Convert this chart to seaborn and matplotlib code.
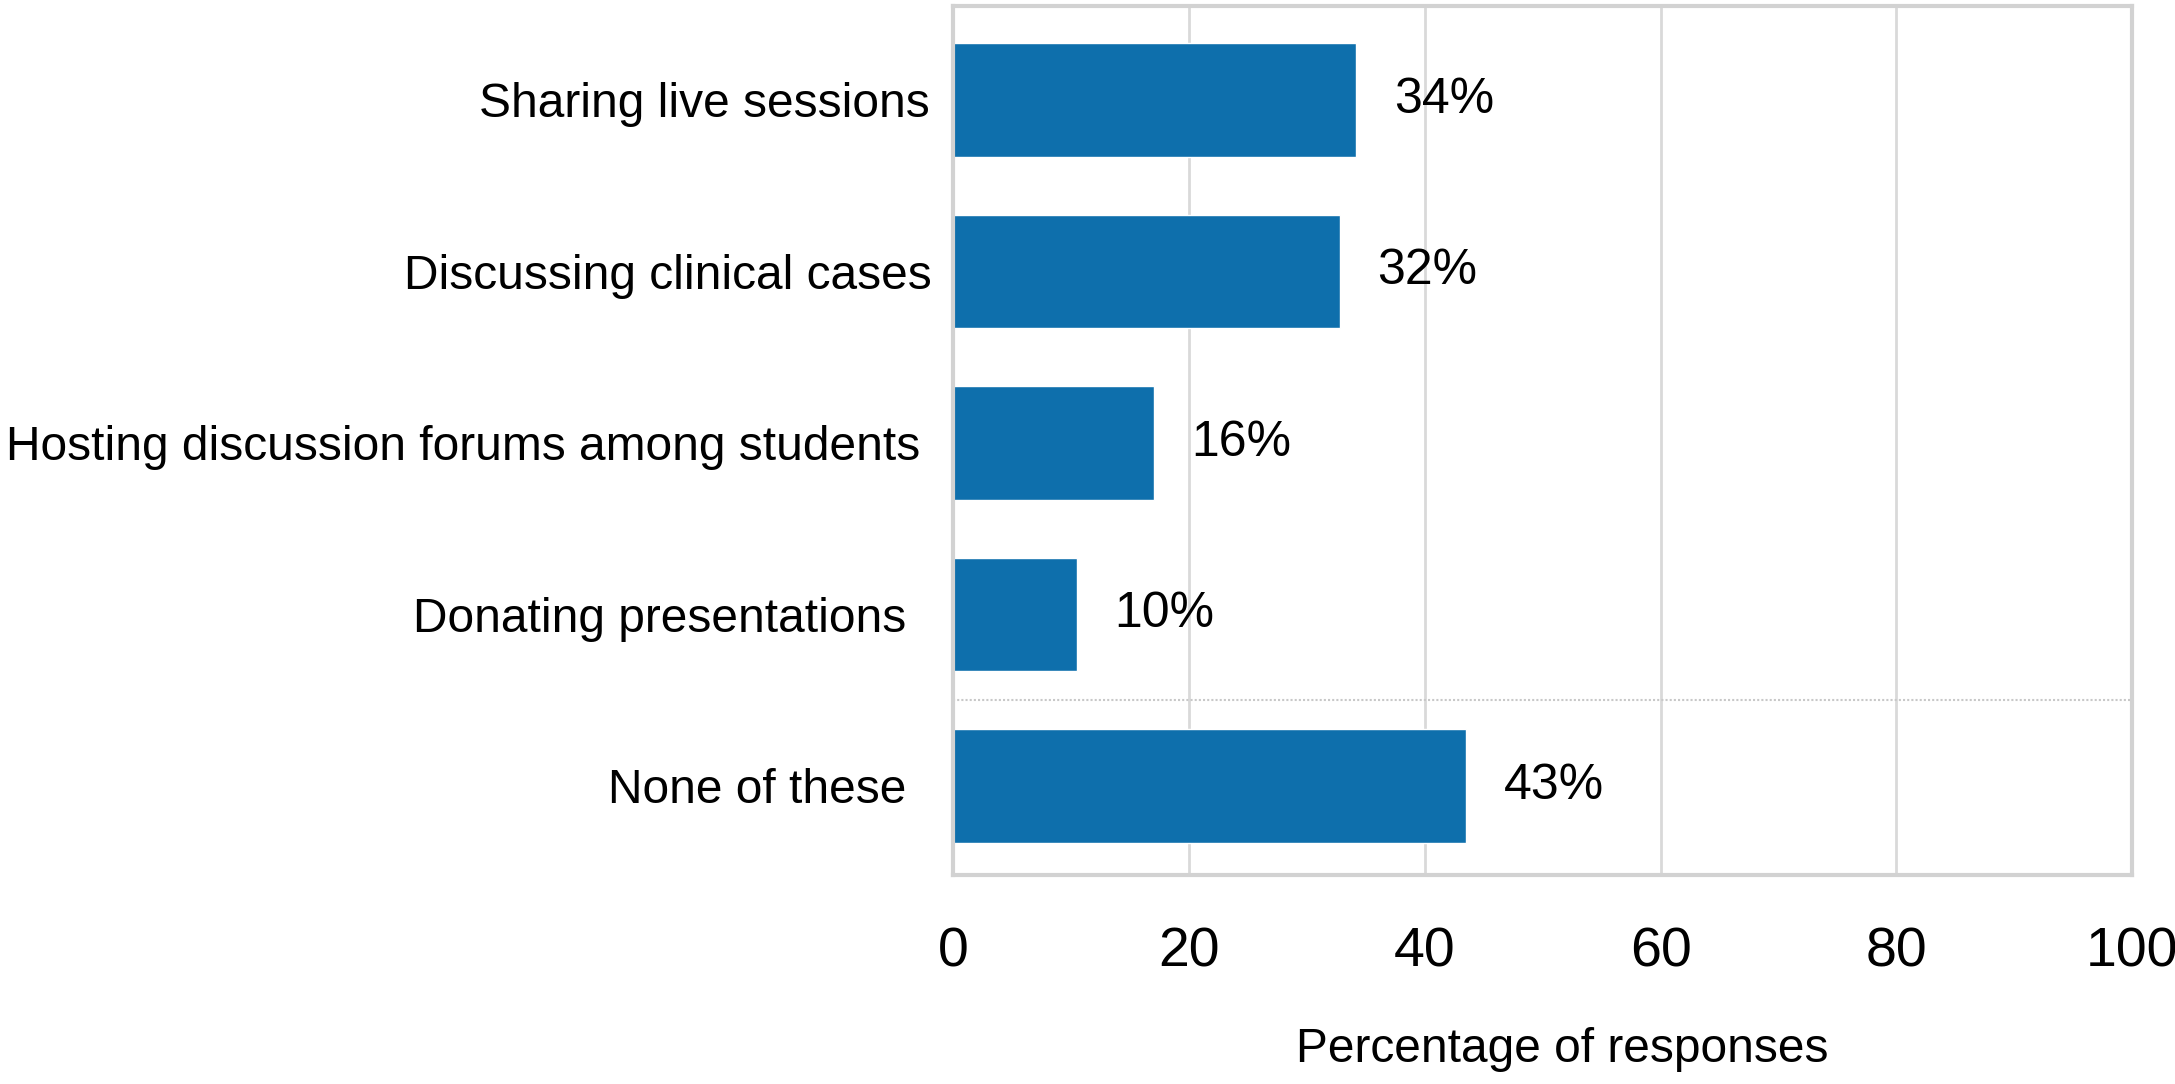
import matplotlib
matplotlib.use("Agg")
import matplotlib.pyplot as plt
import matplotlib.transforms as mtransforms
import seaborn as sns

# data
categories = [
    "Sharing live sessions",
    "Discussing clinical cases",
    "Hosting discussion forums among students",
    "Donating presentations",
    "None of these",
]
bar_values = [34.2, 32.8, 17.0, 10.5, 43.5]   # bar lengths as drawn
shown_pct = [34, 32, 16, 10, 43]              # labels printed next to bars
x_ticks = [0, 20, 40, 60, 80, 100]
x_label = "Percentage of responses"

BAR_COLOR = "#0e6fac"
FRAME_COLOR = "#d2d2d2"
GRID_COLOR = "#d9d9d9"

sns.set_theme(style="white")
plt.rcParams["font.family"] = ["Liberation Sans", "DejaVu Sans"]

fig = plt.figure(figsize=(21.75, 10.84), dpi=100)
ax = fig.add_axes([0.4382, 0.1928, 0.5421, 0.8017])

sns.barplot(x=bar_values, y=categories, orient="h", color=BAR_COLOR,
            saturation=1, width=0.66, ax=ax, zorder=3)

ax.set_xlim(0, 100)
ax.set_ylim(4.519, -0.548)
ax.set_xticks(x_ticks)
ax.set_xticklabels([str(t) for t in x_ticks])

# vertical grid + faint dotted separator before the last row
ax.grid(axis="x", color=GRID_COLOR, linewidth=2, zorder=0)
ax.grid(axis="y", visible=False)
ax.axhline(3.5, color="#c8c8c8", linestyle=(0, (1, 1)), linewidth=1.5, zorder=1)

for side in ["top", "bottom", "left", "right"]:
    ax.spines[side].set_visible(True)
    ax.spines[side].set_color(FRAME_COLOR)
    ax.spines[side].set_linewidth(3)
    ax.spines[side].set_zorder(4)

ax.tick_params(axis="x", length=0, pad=37, labelsize=40, labelcolor="black")
ax.tick_params(axis="y", length=0, pad=16, labelsize=34.5, labelcolor="black")

# the original labels are not quite flush right; nudge a few (pixels)
nudge_px = [-1, 1, -11, -25, -24]
for lbl, dx in zip(ax.get_yticklabels(), nudge_px):
    lbl.set_transform(lbl.get_transform() +
                      mtransforms.ScaledTranslation(dx / 100, 0, fig.dpi_scale_trans))

ax.set_xlabel(x_label, fontsize=34.5, color="black", labelpad=35, x=0.517)
ax.set_ylabel("")

for i, (v, p) in enumerate(zip(bar_values, shown_pct)):
    ax.annotate(f"{p}%", xy=(v, i), xytext=(27, 0), textcoords="offset points",
                ha="left", va="center", fontsize=36, color="black", zorder=5)

fig.savefig("out.png", dpi=100, facecolor="white")
